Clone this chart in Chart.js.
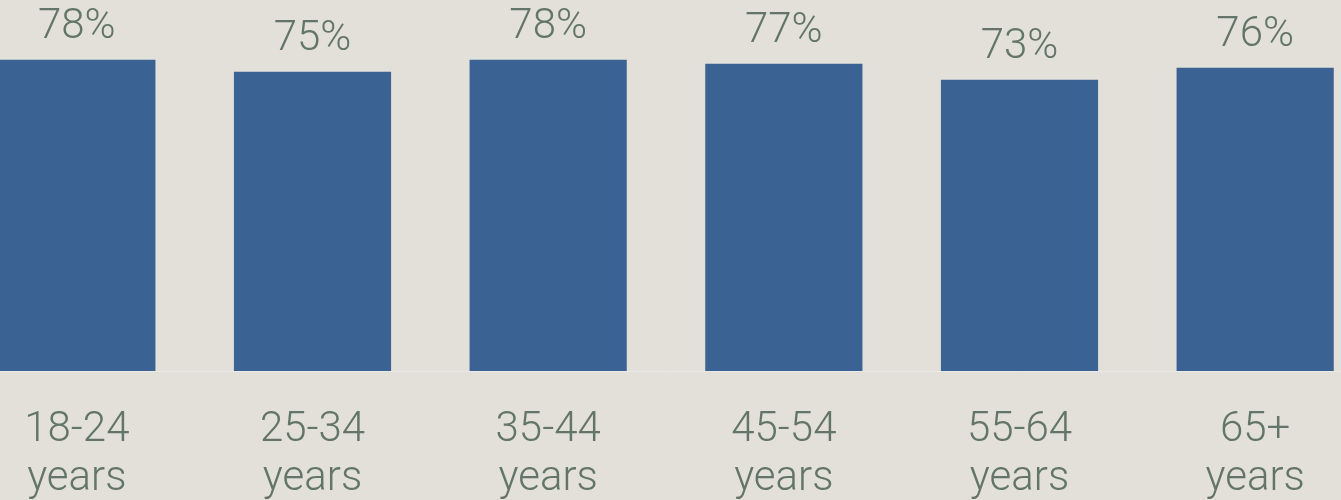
<!DOCTYPE html>
<html>
<head>
<meta charset="utf-8">
<script src="https://cdn.jsdelivr.net/npm/chart.js@4"></script>
<style>
  html, body { margin: 0; padding: 0; background: #e3e0da; overflow: hidden; }
  #wrap { position: absolute; left: -41px; top: 0; width: 1414px; height: 500px; }
</style>
</head>
<body>
<div id="wrap"><canvas id="chart"></canvas></div>
<script>
const ageGroups = [['18-24', 'years'], ['25-34', 'years'], ['35-44', 'years'], ['45-54', 'years'], ['55-64', 'years'], ['65+', 'years']];
const shares = [78, 75, 78, 77, 73, 76];

const textColor = '#627566';

// percent labels above each bar
const valueLabels = {
  id: 'valueLabels',
  afterDatasetsDraw(chart) {
    const ctx = chart.ctx;
    const meta = chart.getDatasetMeta(0);
    ctx.save();
    ctx.font = '300 42px Roboto';
    ctx.fillStyle = textColor;
    ctx.textAlign = 'center';
    ctx.textBaseline = 'alphabetic';
    meta.data.forEach((bar, i) => {
      ctx.fillText(shares[i] + '%', bar.x, bar.y - 22);
    });
    ctx.restore();
  }
};

new Chart(document.getElementById('chart'), {
  type: 'bar',
  data: {
    labels: ageGroups,
    datasets: [{
      data: shares,
      backgroundColor: '#3a6393',
      barPercentage: 0.667,
      categoryPercentage: 1
    }]
  },
  options: {
    responsive: true,
    maintainAspectRatio: false,
    animation: false,
    layout: { padding: 0 },
    plugins: {
      legend: { display: false },
      tooltip: { enabled: false }
    },
    scales: {
      x: {
        grid: { display: false, drawTicks: false },
        border: { display: true, color: '#ebe9e4', width: 1 },
        ticks: {
          color: textColor,
          font: { family: 'Roboto', size: 42, weight: '300', lineHeight: 1.17 },
          padding: 35,
          maxRotation: 0,
          autoSkip: false
        },
        afterFit(scale) { scale.height = 129; }
      },
      y: {
        display: false,
        min: 0,
        max: 93
      }
    }
  },
  plugins: [valueLabels]
});
</script>
</body>
</html>
